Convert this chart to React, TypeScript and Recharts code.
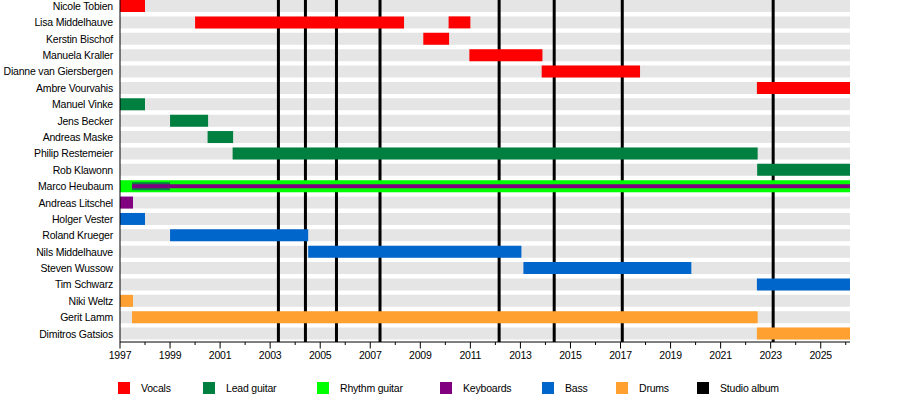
import React from 'react';
import { ComposedChart, Bar, XAxis, YAxis, ReferenceLine } from 'recharts';

const START = 1997;
const END = 2026.17;

const members = [
  'Nicole Tobien',
  'Lisa Middelhauve',
  'Kerstin Bischof',
  'Manuela Kraller',
  'Dianne van Giersbergen',
  'Ambre Vourvahis',
  'Manuel Vinke',
  'Jens Becker',
  'Andreas Maske',
  'Philip Restemeier',
  'Rob Klawonn',
  'Marco Heubaum',
  'Andreas Litschel',
  'Holger Vester',
  'Roland Krueger',
  'Nils Middelhauve',
  'Steven Wussow',
  'Tim Schwarz',
  'Niki Weltz',
  'Gerit Lamm',
  'Dimitros Gatsios',
];

type Span = [string, number, number];

const vocals: Span[] = [
  ['Nicole Tobien', 1997, 1998],
  ['Lisa Middelhauve', 2000, 2008.35],
  ['Kerstin Bischof', 2009.12, 2010.15],
  ['Manuela Kraller', 2010.96, 2013.88],
  ['Dianne van Giersbergen', 2013.85, 2017.78],
  ['Ambre Vourvahis', 2022.45, END],
];
const vocalsReturn: Span[] = [['Lisa Middelhauve', 2010.13, 2011.0]];
const leadGuitar: Span[] = [
  ['Manuel Vinke', 1997, 1998],
  ['Jens Becker', 1999, 2000.52],
  ['Andreas Maske', 2000.5, 2001.52],
  ['Philip Restemeier', 2001.5, 2022.48],
  ['Rob Klawonn', 2022.46, END],
];
const leadGuitarShared: Span[] = [['Marco Heubaum', 1997.48, 1999]];
const rhythmGuitar: Span[] = [['Marco Heubaum', 1997, END]];
const keyboards: Span[] = [['Andreas Litschel', 1997, 1997.52]];
const keyboardsShared: Span[] = [['Marco Heubaum', 1997.48, END]];
const bass: Span[] = [
  ['Holger Vester', 1997, 1998],
  ['Roland Krueger', 1999, 2004.52],
  ['Nils Middelhauve', 2004.52, 2013.04],
  ['Steven Wussow', 2013.12, 2019.83],
  ['Tim Schwarz', 2022.45, END],
];
const drums: Span[] = [
  ['Niki Weltz', 1997, 1997.52],
  ['Gerit Lamm', 1997.48, 2022.48],
  ['Dimitros Gatsios', 2022.45, END],
];

const studioAlbums = [2003.33, 2004.41, 2005.65, 2007.39, 2012.15, 2014.35, 2017.07, 2023.1];

const yearTicks = [
  1997, 1998, 1999, 2000, 2001, 2002, 2003, 2004, 2005, 2006, 2007, 2008, 2009, 2010, 2011,
  2012, 2013, 2014, 2015, 2016, 2017, 2018, 2019, 2020, 2021, 2022, 2023, 2024, 2025, 2026,
];
const labelledYears = [
  1997, 1999, 2001, 2003, 2005, 2007, 2009, 2011, 2013, 2015, 2017, 2019, 2021, 2023, 2025,
];

const legendLabels = ['Vocals', 'Lead guitar', 'Rhythm guitar', 'Keyboards', 'Bass', 'Drums', 'Studio album'];

// ---- styles / layout ----
const FONT = '"Liberation Sans", Arial, sans-serif';
const FONT_SIZE = 10.5;
const LETTER_SPACING = -0.2;
const COLORS: Record<string, string> = {
  Vocals: '#ff0000',
  'Lead guitar': '#008040',
  'Rhythm guitar': '#00ff00',
  Keyboards: '#800080',
  Bass: '#0066cc',
  Drums: '#ffa031',
  'Studio album': '#000000',
  bg: '#e5e5e5',
};
const LEGEND_LEFT = [118, 203, 317, 440, 542, 616, 697];

const background: Span[] = members.map((m) => [m, START, END] as Span);

const series = [
  { key: 'bg', spans: background, color: COLORS.bg, size: 12 },
  { key: 'vocals', spans: vocals, color: COLORS.Vocals, size: 12 },
  { key: 'vocalsReturn', spans: vocalsReturn, color: COLORS.Vocals, size: 12 },
  { key: 'lead', spans: leadGuitar, color: COLORS['Lead guitar'], size: 12 },
  { key: 'rhythm', spans: rhythmGuitar, color: COLORS['Rhythm guitar'], size: 12 },
  { key: 'leadShared', spans: leadGuitarShared, color: COLORS['Lead guitar'], size: 8 },
  { key: 'keys', spans: keyboards, color: COLORS.Keyboards, size: 12 },
  { key: 'keysShared', spans: keyboardsShared, color: COLORS.Keyboards, size: 4 },
  { key: 'bass', spans: bass, color: COLORS.Bass, size: 12 },
  { key: 'drums', spans: drums, color: COLORS.Drums, size: 12 },
];

const table = members.map((name) => {
  const row: Record<string, any> = { name };
  series.forEach((s) => {
    const sp = s.spans.find((x) => x[0] === name);
    row[s.key] = sp ? [sp[1], sp[2]] : [START, START];
  });
  return row;
});

const YearTick = (props: any) => {
  const { x, y, payload } = props;
  const yr = payload.value as number;
  const labelled = labelledYears.includes(yr);
  return (
    <g>
      <line x1={x} x2={x} y1={y} y2={y + (labelled ? 6.5 : 3)} stroke="#000" strokeWidth={1} />
      {labelled && (
        <text
          x={x}
          y={y + 17}
          textAnchor="middle"
          fontSize={FONT_SIZE}
          letterSpacing={LETTER_SPACING}
          fontFamily={FONT}
          fill="#000"
        >
          {yr}
        </text>
      )}
    </g>
  );
};

const NameTick = (props: any) => {
  const { x, y, payload } = props;
  return (
    <text
      x={x + 1}
      y={y}
      dy="0.36em"
      textAnchor="end"
      fontSize={FONT_SIZE}
      letterSpacing={LETTER_SPACING}
      fontFamily={FONT}
      fill="#000"
    >
      {payload.value}
    </text>
  );
};

export default function App() {
  const bgSeries = series[0];
  const fgSeries = series.slice(1);
  return (
    <div style={{ position: 'absolute', left: 0, top: 0, width: 900, height: 400, fontFamily: FONT }}>
      <ComposedChart
        width={900}
        height={400}
        layout="vertical"
        data={table}
        margin={{ top: -2, right: 50, bottom: 28, left: 0 }}
      >
        <YAxis
          yAxisId="bg"
          type="category"
          dataKey="name"
          width={120}
          interval={0}
          tickLine={false}
          axisLine={{ stroke: '#000' }}
          tick={<NameTick />}
        />
        {fgSeries.map((s) => (
          <YAxis key={'y-' + s.key} yAxisId={s.key} type="category" dataKey="name" width={0} hide />
        ))}
        <Bar
          dataKey={bgSeries.key}
          yAxisId={bgSeries.key}
          fill={bgSeries.color}
          barSize={bgSeries.size}
          isAnimationActive={false}
          zIndex={200}
        />
        {studioAlbums.map((yr) => (
          <ReferenceLine
            key={'alb-' + yr}
            x={yr}
            yAxisId="bg"
            stroke="#000"
            strokeWidth={3}
            zIndex={250}
          />
        ))}
        {fgSeries.map((s) => (
          <Bar
            key={s.key}
            dataKey={s.key}
            yAxisId={s.key}
            fill={s.color}
            barSize={s.size}
            isAnimationActive={false}
          />
        ))}
        <XAxis
          type="number"
          domain={[START, END]}
          allowDataOverflow
          ticks={yearTicks}
          interval={0}
          tickLine={false}
          tickSize={0}
          tickMargin={0}
          tick={<YearTick />}
          axisLine={{ stroke: '#000' }}
          height={30}
        />
      </ComposedChart>
      <div style={{ position: 'absolute', left: 0, top: 382, width: 900, height: 12 }}>
        {legendLabels.map((label, i) => (
          <div key={label} style={{ position: 'absolute', left: LEGEND_LEFT[i], top: 0, height: 12 }}>
            <div style={{ position: 'absolute', left: 0, top: 0, width: 12, height: 12, background: COLORS[label] }} />
            <div
              style={{
                position: 'absolute',
                left: 23,
                top: -1,
                fontSize: FONT_SIZE,
                letterSpacing: LETTER_SPACING,
                lineHeight: '14px',
                whiteSpace: 'nowrap',
                color: '#000',
              }}
            >
              {label}
            </div>
          </div>
        ))}
      </div>
    </div>
  );
}
